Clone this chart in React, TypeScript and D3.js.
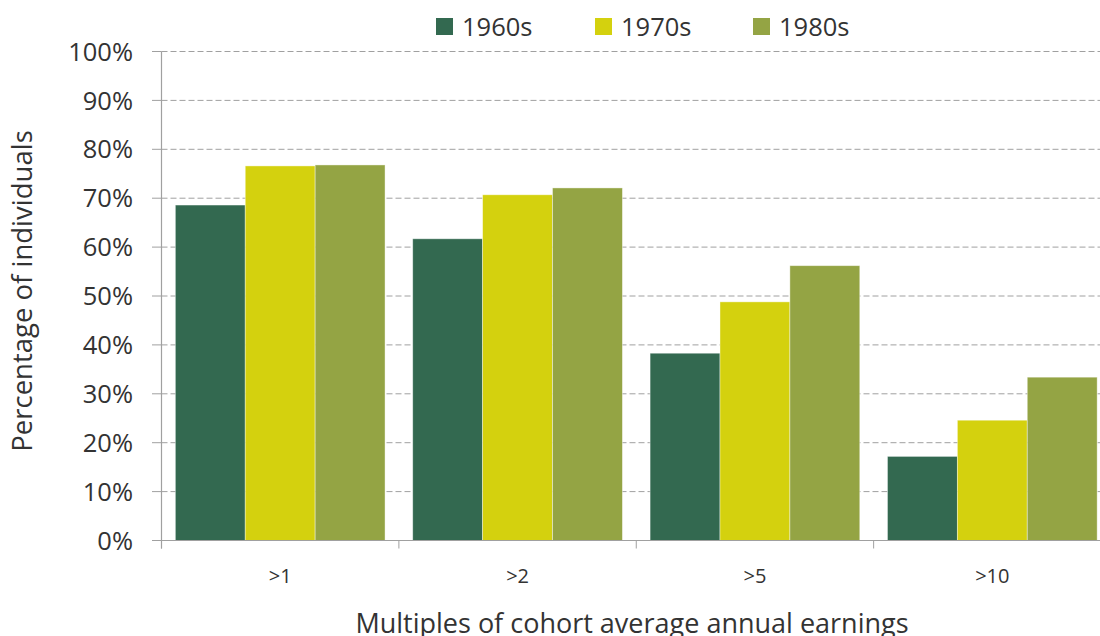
import React from "react";
import * as d3 from "d3";

const categories = [">1", ">2", ">5", ">10"];
const seriesNames = ["1960s", "1970s", "1980s"];
const v1960s = [68.6, 61.7, 38.3, 17.2];
const v1970s = [76.6, 70.7, 48.8, 24.6];
const v1980s = [76.8, 72.1, 56.2, 33.4];
const yTicks = [0, 10, 20, 30, 40, 50, 60, 70, 80, 90, 100];
const colors = ["#336950", "#D4D10E", "#94A444"];

const W = 1100;
const H = 636;
const m = { left: 161.5, right: 1111, top: 51.5, bottom: 540.5 };
const FONT = "'Open Sans', 'Noto Sans', sans-serif";

export default function App() {
  const values = [v1960s, v1970s, v1980s];
  const x = d3.scaleBand().domain(categories).range([m.left, m.right]).paddingInner(0).paddingOuter(0);
  const bw = x.bandwidth();
  const inner = d3.scaleBand().domain(seriesNames).range([0, bw]).paddingOuter(0.198).paddingInner(0);
  const y = d3.scaleLinear().domain([0, 100]).range([m.bottom, m.top]);
  const legendX = [436, 595, 753];

  return (
    <svg width={W} height={H} style={{ position: "absolute", left: 0, top: 0, background: "#fff" }}>
      {yTicks.map((t) => (
        <g key={t}>
          {t > 0 && (
            <line x1={m.left} x2={W} y1={y(t)} y2={y(t)} stroke="#a0a0a0" strokeWidth={1} strokeDasharray="6,3" />
          )}
          <line x1={152} x2={m.left} y1={y(t)} y2={y(t)} stroke="#a0a0a0" strokeWidth={1} />
          <text x={133} y={y(t)} dy="0.36em" textAnchor="end" fontFamily={FONT} fontSize={25.5} fill="#333">
            {t}%
          </text>
        </g>
      ))}
      {categories.map((c, ci) => (
        <g key={c}>
          {seriesNames.map((s, si) => (
            <rect
              key={s}
              x={(x(c) as number) + (inner(s) as number)}
              y={y(values[si][ci])}
              width={inner.bandwidth()}
              height={y(0) - y(values[si][ci])}
              fill={colors[si]}
              stroke="#ffffff"
              strokeOpacity={0.5}
              strokeWidth={0.8}
            />
          ))}
          <text x={(x(c) as number) + bw / 2} y={583} textAnchor="middle" fontFamily={FONT} fontSize={20} fill="#333">
            {c}
          </text>
        </g>
      ))}
      {categories.concat(["end"]).map((c, i) => (
        <line key={c} x1={m.left + i * bw} x2={m.left + i * bw} y1={m.bottom} y2={m.bottom + 8} stroke="#a0a0a0" strokeWidth={1} />
      ))}
      <line x1={m.left} x2={m.left} y1={m.top} y2={m.bottom + 8} stroke="#a0a0a0" strokeWidth={1.2} />
      <line x1={m.left} x2={W} y1={m.bottom} y2={m.bottom} stroke="#a0a0a0" strokeWidth={1.2} />
      {seriesNames.map((s, i) => (
        <g key={s}>
          <rect x={legendX[i]} y={18} width={17} height={17} fill={colors[i]} />
          <text x={legendX[i] + 26} y={26.5} dy="0.36em" fontFamily={FONT} fontSize={25.5} fill="#333">
            {s}
          </text>
        </g>
      ))}
      <text x={632} y={633} textAnchor="middle" fontFamily={FONT} fontSize={27} fill="#333">
        Multiples of cohort average annual earnings
      </text>
      <text
        transform={`translate(32,291) rotate(-90)`}
        textAnchor="middle"
        fontFamily={FONT}
        fontSize={27.5}
        fill="#333"
      >
        Percentage of individuals
      </text>
    </svg>
  );
}
